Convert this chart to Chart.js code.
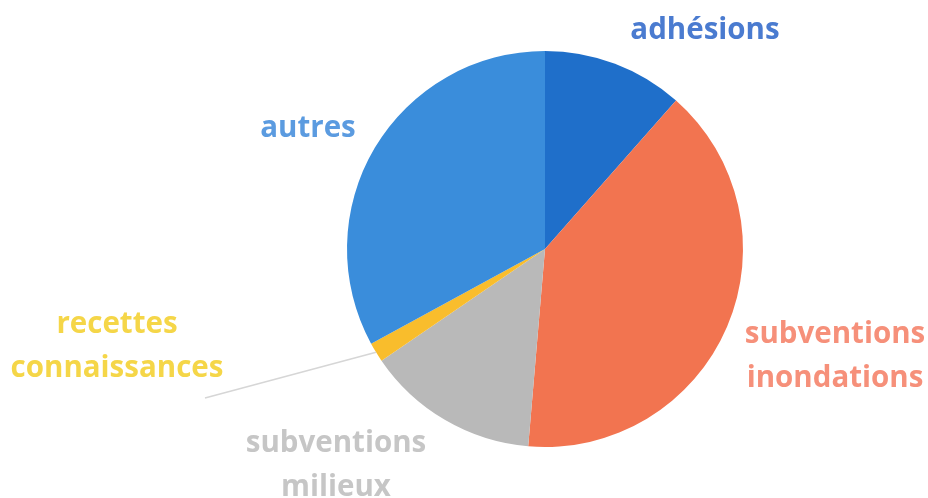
<!DOCTYPE html>
<html>
<head>
<meta charset="utf-8">
<script src="https://cdn.jsdelivr.net/npm/chart.js@4.4.0/dist/chart.umd.min.js"></script>
<style>
  html, body { margin: 0; padding: 0; background: #ffffff; }
  #wrap { width: 928px; height: 498px; }
</style>
</head>
<body>
<div id="wrap"><canvas id="c" width="928" height="498"></canvas></div>
<script>
// Data (percent shares)
const categories = ["adhésions", "subventions inondations", "subventions milieux", "recettes connaissances", "autres"];
const labelLines = [["adhésions"], ["subventions", "inondations"], ["subventions", "milieux"], ["recettes", "connaissances"], ["autres"]];
const values = [11.5, 39.8, 14.1, 1.6, 32.9];

// Styles
const sliceColors = ["#1f6fca", "#f27450", "#b9b9b9", "#f9bd2c", "#3a8ddb"];
const textColors = ["#4a7bd0", "#f6907a", "#c6c6c6", "#f5d648", "#5b9be0"];
// label offsets from pie centre (px), first baseline
const labelOffsets = [[160, -210], [290, 94], [-209, 203], [-428, 84], [-237, -112]];
const leaderEnd = [-340, 149];

const labelPlugin = {
  id: 'sliceLabels',
  afterDraw(chart) {
    const ctx = chart.ctx;
    const meta = chart.getDatasetMeta(0);
    const arc0 = meta.data[0];
    const cx = arc0.x, cy = arc0.y;
    ctx.save();
    // leader line for small slice
    const a = meta.data[3];
    const mid = (a.startAngle + a.endAngle) / 2;
    ctx.strokeStyle = "#d6d6d6";
    ctx.lineWidth = 1.5;
    ctx.beginPath();
    ctx.moveTo(cx + Math.cos(mid) * a.outerRadius, cy + Math.sin(mid) * a.outerRadius);
    ctx.lineTo(cx + leaderEnd[0], cy + leaderEnd[1]);
    ctx.stroke();

    ctx.font = "bold 29.5px 'Open Sans', sans-serif";
    ctx.textAlign = "center";
    ctx.textBaseline = "alphabetic";
    labelLines.forEach((lines, i) => {
      ctx.fillStyle = textColors[i];
      lines.forEach((t, j) => {
        ctx.fillText(t, cx + labelOffsets[i][0], cy + labelOffsets[i][1] + j * 44);
      });
    });
    ctx.restore();
  }
};

new Chart(document.getElementById('c'), {
  type: 'pie',
  data: {
    labels: categories,
    datasets: [{
      data: values,
      backgroundColor: sliceColors,
      borderWidth: 0
    }]
  },
  options: {
    responsive: false,
    animation: false,
    layout: { padding: { top: 51, bottom: 51, left: 162, right: 0 } },
    plugins: { legend: { display: false }, tooltip: { enabled: false } }
  },
  plugins: [labelPlugin]
});
</script>
</body>
</html>
